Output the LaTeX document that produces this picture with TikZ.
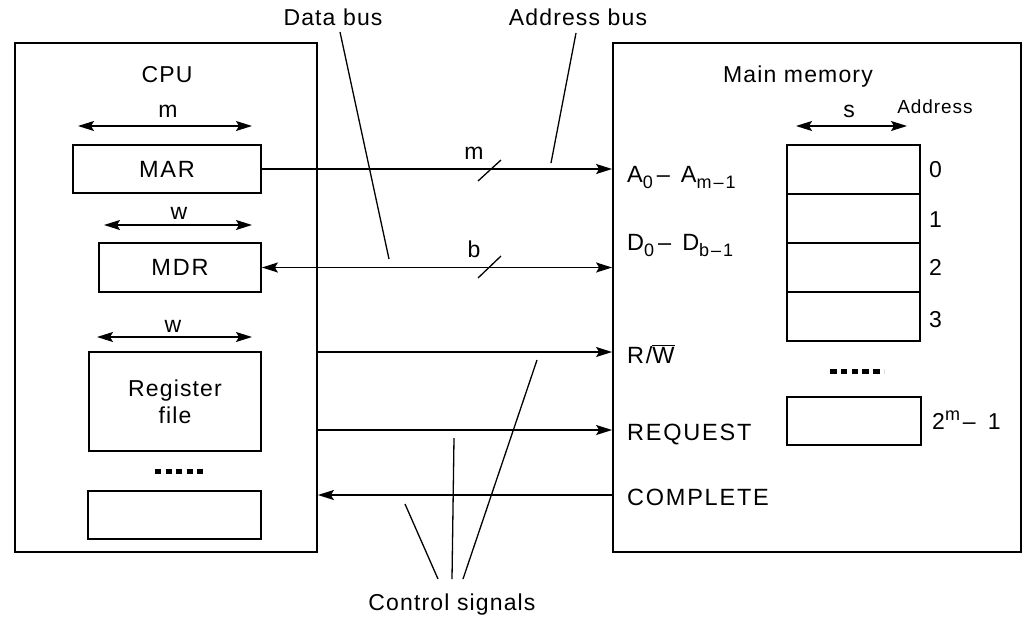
\documentclass[tikz,border=0pt]{standalone}
\usepackage{fontspec}
\setmainfont{Liberation Sans}[LetterSpace=5]
\usetikzlibrary{arrows.meta}
% lowered and raised indices in the text font
\newcommand\lo[1]{\raisebox{-6pt}{\fontsize{18}{18}\selectfont#1}}
\newcommand\hi[1]{\raisebox{9pt}{\fontsize{18}{18}\selectfont#1}}
\begin{document}
\begin{tikzpicture}[x=1pt,y=-1pt,
  box/.style={draw, line width=1.8pt, inner sep=0pt},
  wire/.style={line width=1.3pt},
  tip/.style={-{Stealth[length=16pt,width=10pt,inset=3pt]}},
  tiptip/.style={{Stealth[length=16pt,width=10pt,inset=3pt]}-{Stealth[length=16pt,width=10pt,inset=3pt]}},
  lbl/.style={anchor=base, inner sep=0pt, font=\fontsize{23}{27}\selectfont},
  pin/.style={anchor=base west, inner sep=0pt, font=\fontsize{23.5}{27}\selectfont\addfontfeature{LetterSpace=7.5}},
  small/.style={anchor=base, inner sep=0pt, font=\fontsize{19}{22}\selectfont},
  dots/.style={line width=5pt, dash pattern=on 6pt off 4.5pt}]
\useasboundingbox (0,0) rectangle (1033,616);

% outer blocks
\node[box, minimum width=302pt, minimum height=509pt] (cpu) at (166,297.5) {};
\node[box, minimum width=408pt, minimum height=509pt] (mem) at (817,297.5) {};
\node[lbl] (cputitle) at (167,82) {CPU};
\node[lbl] (memtitle) at (798,82) {Main memory};

% CPU registers
\node[box, minimum width=188pt, minimum height=48pt, font=\fontsize{23.5}{27}\selectfont\addfontfeature{LetterSpace=8}] (mar) at (167,169) {MAR};
\node[box, minimum width=162pt, minimum height=49pt, font=\fontsize{23.5}{27}\selectfont\addfontfeature{LetterSpace=8}] (mdr) at (180,267.5) {MDR};
\node[box, minimum width=172pt, minimum height=99pt, align=center, font=\fontsize{23}{27}\selectfont] (reg) at (175,401.5) {Register\\file};
\node[box, minimum width=173pt, minimum height=48pt] (extra) at (174.5,515) {};
\draw[dots] (155,471) -- (203,471);

% width markers
\draw[wire,tiptip] (78,126) -- (252,126);
\node[lbl] (wm) at (168,117) {m};
\draw[wire,tiptip] (104,225) -- (252,225);
\node[lbl] (ww1) at (179,219) {w};
\draw[wire,tiptip] (97,337) -- (252,337);
\node[lbl] (ww2) at (173,332) {w};

% memory cells
\foreach \i/\y/\a in {0/169.5/177, 1/218.5/227, 2/267.5/275, 3/316.5/327}{
  \node[box, minimum width=133pt, minimum height=49pt] (cell\i) at (853.5,\y) {};
  \node[lbl, anchor=base west] (addr\i) at (929,\a) {\i};
}
\node[box, minimum width=134pt, minimum height=48pt] (cellN) at (854,421) {};
\node[lbl, anchor=base west] (addrN) at (932,429) {2\hi{m}\hspace{3pt}–\hspace{12pt}1};
\draw[dots, dash pattern=on 6.5pt off 4.3pt] (830,371) -- (884,371);
\draw[wire,tiptip] (796,126) -- (907,126);
\node[lbl] (ws) at (849,117) {s};
\node[small] (addrhead) at (935,113) {Address};

% memory pins
\node[pin] (pa) at (627,182) {A\lo{0}\hspace{4pt}–\hspace{11pt}A\lo{m\hspace{2pt}–\hspace{2pt}1}};
\node[pin] (pd) at (627,250) {D\lo{0}\hspace{4pt}–\hspace{11pt}D\lo{b\hspace{2pt}–\hspace{2pt}1}};
\node[pin] (prw) at (627,363) {R/$\overline{\mbox{W}}$};
\node[pin] (preq) at (627,440) {REQUEST};
\node[pin] (pcomp) at (627,505) {COMPLETE};

% bus and control lines
\coordinate (rw) at (0,352);
\coordinate (req) at (0,430);
\coordinate (comp) at (0,495);
\draw[wire,tip] (mar.east) -- (mar.east -| mem.west);
\draw[wire,tiptip] (mdr.east) -- (mdr.east -| mem.west);
\draw[wire,tip] (cpu.east |- rw) -- (mem.west |- rw);
\draw[wire,tip] (cpu.east |- req) -- (mem.west |- req);
\draw[wire,tip] (mem.west |- comp) -- (cpu.east |- comp);

% bus width slashes
\draw[wire] (478,181) -- (501,160);
\node[lbl] (wbm) at (474,159) {m};
\draw[wire] (478,278) -- (501,256);
\node[lbl] (wbb) at (474,257) {b};

% callouts
\node[lbl] (dbus) at (333,25.7) {Data bus};
\node[lbl] (abus) at (578,25) {Address bus};
\node[lbl] (ctrl) at (452,610) {Control signals};
\draw[wire] (340,32) -- (389,259);
\draw[wire] (576,33) -- (551,163);
\draw[wire] (438,579) -- (405,504);
\draw[wire] (452,579) -- (454,438);
\draw[wire] (463,579) -- (537,360);
\end{tikzpicture}
\end{document}
